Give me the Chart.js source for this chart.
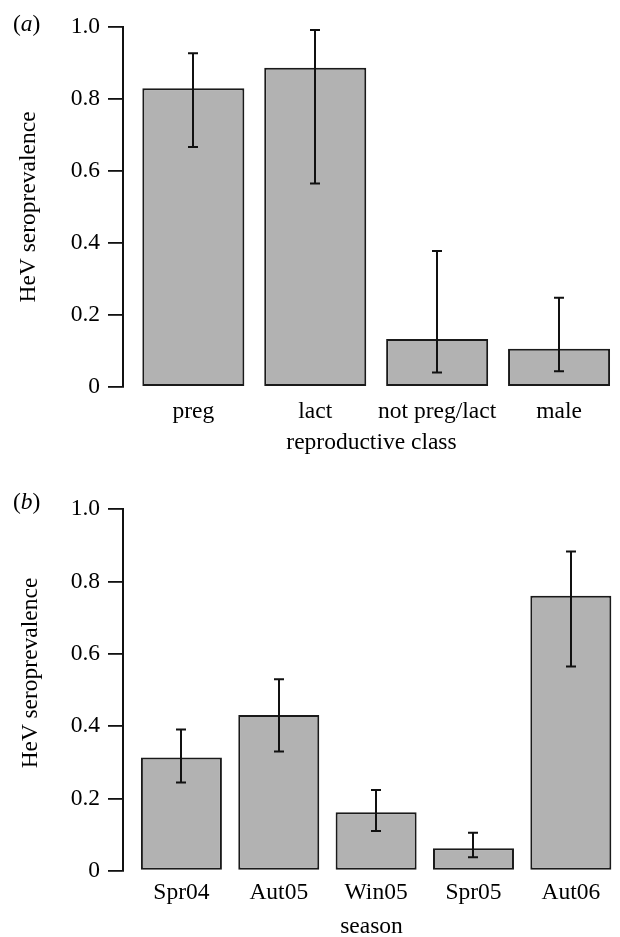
<!DOCTYPE html>
<html>
<head>
<meta charset="utf-8">
<script src="https://cdn.jsdelivr.net/npm/chart.js@4.4.1/dist/chart.umd.min.js"></script>
<style>
html,body{margin:0;padding:0;background:#fff;overflow:hidden;width:620px;height:937px;}
.panel{position:absolute;left:0;width:620px;}
#pa{top:0;height:460px;}
#pb{top:460px;height:484px;}
.lab{position:absolute;font-family:"Liberation Serif","Times New Roman",serif;font-size:23.5px;line-height:28.2px;color:#000;white-space:nowrap;}
</style>
</head>
<body>
<div id="pa" class="panel"><canvas id="ca"></canvas></div>
<div id="pb" class="panel"><canvas id="cb"></canvas></div>
<div class="lab" style="left:13px;top:9px">(<i>a</i>)</div>
<div class="lab" style="left:13px;top:487px">(<i>b</i>)</div>
<div class="lab" id="ytb" style="left:28.7px;top:673px;transform:translate(-50%,-50%) rotate(-90deg)"></div>
<script>
// ---- data ----
const reproClasses = ['preg', 'lact', 'not preg/lact', 'male'];
const reproPrev  = [0.830, 0.887, 0.133, 0.106];
const reproLower = [0.667, 0.565, 0.040, 0.044];
const reproUpper = [0.927, 0.992, 0.378, 0.248];

const seasons     = ['Spr04', 'Aut05', 'Win05', 'Spr05', 'Aut06'];
const seasonPrev  = [0.313, 0.431, 0.162, 0.062, 0.761];
const seasonLower = [0.244, 0.330, 0.110, 0.037, 0.565];
const seasonUpper = [0.391, 0.530, 0.223, 0.105, 0.883];

const yTickLabels = ['0', '0.2', '0.4', '0.6', '0.8', '1.0'];
const yTitle = 'HeV seroprevalence';
const xTitleA = 'reproductive class';
const xTitleB = 'season';

// ---- drawing ----
const FAMILY = "'Liberation Serif', 'Times New Roman', serif";
const font = { family: FAMILY, size: 23.5, lineHeight: 1.2 };
document.getElementById('ytb').textContent = yTitle;

function errorBarPlugin(lower, upper) {
  return {
    id: 'errorBars',
    afterDatasetsDraw(chart) {
      const { ctx, scales: { x, y } } = chart;
      ctx.save();
      ctx.strokeStyle = '#111';
      ctx.lineWidth = 2;
      const cap = 5;
      lower.forEach((lo, i) => {
        const px = Math.round(x.getPixelForValue(i));
        const yl = y.getPixelForValue(lo);
        const yu = y.getPixelForValue(upper[i]);
        ctx.beginPath();
        ctx.moveTo(px, yu); ctx.lineTo(px, yl);
        ctx.moveTo(px - cap, yu); ctx.lineTo(px + cap, yu);
        ctx.moveTo(px - cap, yl); ctx.lineTo(px + cap, yl);
        ctx.stroke();
      });
      ctx.restore();
    }
  };
}

function makeChart(id, cats, vals, lower, upper, cfg) {
  return new Chart(document.getElementById(id), {
    type: 'bar',
    data: {
      datasets: [{
        data: vals.map((v, i) => ({ x: i, y: v })),
        backgroundColor: '#b2b2b2',
        borderColor: '#1a1a1a',
        borderWidth: 2,
        borderSkipped: false,
        categoryPercentage: 1,
        barPercentage: cfg.barPct
      }]
    },
    options: {
      responsive: true,
      maintainAspectRatio: false,
      animation: false,
      events: [],
      devicePixelRatio: 1,
      layout: { padding: { top: cfg.top, left: 0, right: 0, bottom: 0 } },
      plugins: { legend: { display: false }, tooltip: { enabled: false } },
      scales: {
        x: {
          type: 'linear',
          offset: false,
          min: cfg.xmin,
          max: cfg.xmax,
          afterBuildTicks(s) {
            s.min = s.options.min;
            s.max = s.options.max;
            s.ticks = cats.map((c, i) => ({ value: i }));
          },
          ticks: {
            padding: cfg.xTickPad,
            color: '#000',
            font: font,
            maxRotation: 0,
            autoSkip: false,
            callback: (v) => (Number.isInteger(v) ? cats[v] : '')
          },
          grid: { display: false, drawTicks: false },
          border: { display: false },
          title: {
            display: true,
            text: cfg.xTitle,
            color: '#000',
            font: font,
            padding: { top: 0, bottom: cfg.xTitlePad }
          },
          afterFit(s) { s.height = cfg.xHeight; }
        },
        y: {
          min: 0,
          max: 1,
          ticks: {
            stepSize: 0.2,
            padding: 8,
            color: '#000',
            font: font,
            callback: (v, i) => yTickLabels[i]
          },
          grid: {
            display: true,
            drawOnChartArea: false,
            drawTicks: true,
            tickLength: 15,
            color: '#111',
            lineWidth: 1.8
          },
          border: { display: true, color: '#111', width: 2 },
          title: {
            display: cfg.showYTitle,
            text: yTitle,
            color: '#000',
            font: font,
            padding: { top: 14.6, bottom: 0 }
          },
          afterFit(s) { s.width = 123; }
        }
      }
    },
    plugins: [errorBarPlugin(lower, upper)]
  });
}

makeChart('ca', reproClasses, reproPrev, reproLower, reproUpper, {
  top: 27, xmin: -0.577, xmax: 3.5, barPct: 0.837,
  xTickPad: 10.5, xTitle: xTitleA, xTitlePad: 3.2, xHeight: 73, showYTitle: true
});

makeChart('cb', seasons, seasonPrev, seasonLower, seasonUpper, {
  top: 49.3, xmin: -0.6, xmax: 4.505, barPct: 0.832,
  xTickPad: 7.8, xTitle: xTitleB, xTitlePad: 2.9, xHeight: 73.3, showYTitle: false
});
</script>
</body>
</html>
